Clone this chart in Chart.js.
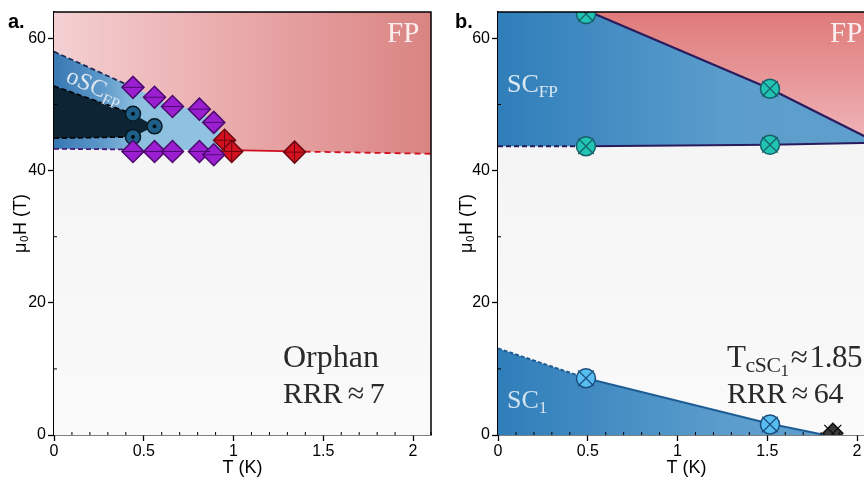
<!DOCTYPE html>
<html>
<head>
<meta charset="utf-8">
<script src="https://cdn.jsdelivr.net/npm/chart.js@4.4.1/dist/chart.umd.min.js"></script>
<style>
  body { margin: 0; width: 864px; height: 479px; overflow: hidden; background: #fff; position: relative; font-family: "Liberation Sans", Arial, sans-serif; }
  .panel { position: absolute; top: 0; width: 440px; height: 479px; }
  #pa { left: 0; }
  #pb { left: 440px; }
  .lab { position: absolute; font-family: "Liberation Serif", "DejaVu Serif", serif; white-space: nowrap; line-height: 1; }
  .lab sub { font-size: 0.66em; vertical-align: baseline; position: relative; top: 0.3em; }
  .lab sub.big { font-size: 0.7em; top: 0.22em; }
  .lab sub.big sub { font-size: 0.78em; top: 0.25em; }
  .tag { position: absolute; font-weight: bold; font-size: 20px; line-height: 1; }
</style>
</head>
<body>
<div class="panel" id="pa"><canvas id="chartA" width="440" height="479"></canvas></div>
<div class="panel" id="pb"><canvas id="chartB" width="440" height="479"></canvas></div>

<div class="tag" style="left:8px;top:11px">a.</div>
<div class="tag" style="left:455px;top:11px">b.</div>

<div class="lab" style="left:387px;top:18px;font-size:29px;color:#fbeeee">FP</div>
<div class="lab" style="left:73px;top:63px;font-size:24px;color:#d9e6f2;transform:rotate(24deg);transform-origin:0 0">oSC<sub>FP</sub></div>
<div class="lab" style="left:283px;top:340px;font-size:32px;color:#2a2a2a">Orphan</div>
<div class="lab" style="left:283px;top:378px;font-size:30px;color:#2a2a2a;letter-spacing:-0.3px">RRR&#8201;≈&#8201;7</div>

<div class="lab" style="left:830px;top:18px;font-size:29px;color:#fbeeee">FP</div>
<div class="lab" style="left:507px;top:71px;font-size:26px;color:#dde8f1">SC<sub>FP</sub></div>
<div class="lab" style="left:727px;top:341px;font-size:31px;color:#2a2a2a;letter-spacing:-0.4px">T<sub class="big">cSC<sub>1</sub></sub>&#8202;≈&#8202;1.85</div>
<div class="lab" style="left:727px;top:378px;font-size:30px;color:#2a2a2a;letter-spacing:-0.3px">RRR&#8201;≈&#8201;64</div>
<div class="lab" style="left:507px;top:387px;font-size:26px;color:#d2e2ee">SC<sub>1</sub></div>

<script>
// ---- panel a (orphan sample) ----
// upper edge of the oSC_FP pocket, also the FP boundary on the left
const aUpT = [0, 0.44, 0.56, 0.66, 0.81, 0.89, 0.99];
const aUpH = [58, 52.6, 51.1, 49.7, 49.3, 47.3, 43.1];
// FP boundary to the right of the pocket
const aFpT = [0.99, 1.34, 2.1];
const aFpH = [43.1, 42.9, 42.55];
// lower edge of the pocket
const aLowT = [0, 0.44, 0.99];
const aLowH = [43.3, 43.2, 43.1];
// dark inner region
const aDarkUpT = [0, 0.44, 0.56];
const aDarkUpH = [52.8, 48.6, 46.7];
const aDarkLowT = [0, 0.44, 0.56];
const aDarkLowH = [44.9, 45.1, 46.7];
// measured points
const aDiamT = [0.44, 0.56, 0.66, 0.81, 0.89, 0.44, 0.56, 0.66, 0.81, 0.89];
const aDiamH = [52.6, 51.1, 49.7, 49.3, 47.3, 42.9, 42.9, 42.9, 42.9, 42.4];
const aRedT = [0.95, 0.99, 1.34];
const aRedH = [44.6, 42.9, 42.8];
const aCircT = [0.44, 0.56, 0.44];
const aCircH = [48.6, 46.7, 45.1];

// ---- panel b (RRR 64 sample) ----
const bFpT = [0.47, 1.515, 2.1];
const bFpH = [64.5, 52.4, 44.4];
const bLowT = [0, 0.49, 1.515, 2.1];
const bLowH = [43.7, 43.7, 43.9, 44.2];
const bSc1T = [0, 0.49, 1.515, 1.82];
const bSc1H = [13.1, 8.6, 1.7, 0];
const bFpMarkT = [0.49, 1.515, 0.49, 1.515];
const bFpMarkH = [63.7, 52.4, 43.7, 43.9];
const bSc1MarkT = [0.49, 1.515];
const bSc1MarkH = [8.6, 1.6];
const bOnsetT = [1.865];
const bOnsetH = [0.25];

// axis ticks
const xTicks = [0, 0.5, 1, 1.5, 2];
const yTicks = [0, 20, 40, 60];
const xMinor = [0.1, 0.2, 0.3, 0.4, 0.6, 0.7, 0.8, 0.9, 1.1, 1.2, 1.3, 1.4, 1.6, 1.7, 1.8, 1.9, 2.1];
const yMinor = [10, 30, 50];

const SANS = '"Liberation Sans", Arial, sans-serif';

function pts(xs, ys) {
  return xs.map((x, i) => ({ x: x, y: ys[i] }));
}

function hGrad(stops) {
  return c => {
    const a = c.chart.chartArea;
    if (!a) return stops[0][1];
    const g = c.chart.ctx.createLinearGradient(a.left, 0, a.right, 0);
    stops.forEach(s => g.addColorStop(s[0], s[1]));
    return g;
  };
}

function vGrad(fromVal, toVal, c0, c1) {
  return c => {
    const y = c.chart.scales.y;
    if (!c.chart.chartArea || !y) return c0;
    const g = c.chart.ctx.createLinearGradient(0, y.getPixelForValue(fromVal), 0, y.getPixelForValue(toVal));
    g.addColorStop(0, c0);
    g.addColorStop(1, c1);
    return g;
  };
}

function region(data, fill, bg, order) {
  return { data: data, fill: fill, backgroundColor: bg, borderWidth: 0, pointRadius: 0, order: order };
}

function edge(data, color, width, dash, order) {
  return { data: data, fill: false, borderColor: color, borderWidth: width, borderDash: dash || [], pointRadius: 0, order: order };
}

function marks(data, style, r, fill, stroke, width, order) {
  return {
    data: data, showLine: false, pointStyle: style, pointRadius: r, pointHoverRadius: r,
    pointBackgroundColor: fill, pointBorderColor: stroke, pointBorderWidth: width, order: order
  };
}

const framePlugin = {
  id: 'frame',
  beforeDatasetsDraw(chart) {
    const { ctx, chartArea: a } = chart;
    ctx.save();
    const g = ctx.createLinearGradient(0, a.top, 0, a.bottom);
    g.addColorStop(0, '#f2f2f2');
    g.addColorStop(1, '#fafafa');
    ctx.fillStyle = g;
    ctx.fillRect(a.left, a.top, a.right - a.left, a.bottom - a.top);
    ctx.restore();
  },
  afterDraw(chart) {
    const { ctx, chartArea: a, scales } = chart;
    ctx.save();
    ctx.strokeStyle = '#000';
    ctx.lineWidth = 1.5;
    ctx.beginPath();
    ctx.moveTo(a.left, a.top);
    ctx.lineTo(a.right, a.top);
    ctx.lineTo(a.right, a.bottom);
    ctx.stroke();
    ctx.lineWidth = 1;
    ctx.beginPath();
    xMinor.forEach(v => {
      const px = scales.x.getPixelForValue(v);
      ctx.moveTo(px, a.bottom);
      ctx.lineTo(px, a.bottom - 3);
    });
    yMinor.forEach(v => {
      const py = scales.y.getPixelForValue(v);
      ctx.moveTo(a.left, py);
      ctx.lineTo(a.left + 3, py);
    });
    ctx.stroke();
    ctx.restore();
  }
};

function scalesFor(yAxisWidth, yTitlePad) {
  return {
    x: {
      type: 'linear', min: 0, max: 2.1,
      afterBuildTicks: s => { s.ticks = xTicks.map(v => ({ value: v })); },
      afterFit: s => { s.height = 44; s.paddingLeft = 0; s.paddingRight = 0; },
      ticks: { color: '#000', font: { family: SANS, size: 16 }, padding: 1, maxRotation: 0, autoSkip: false,
        callback: v => String(v) },
      grid: { drawOnChartArea: false, tickLength: 6, tickColor: '#000', tickWidth: 1.3 },
      border: { color: '#000', width: 1.5 },
      title: { display: true, text: 'T (K)', color: '#000', font: { family: SANS, size: 18 }, padding: { top: 0, bottom: 0 } }
    },
    y: {
      type: 'linear', min: 0, max: 64,
      afterBuildTicks: s => { s.ticks = yTicks.map(v => ({ value: v })); },
      afterFit: s => { s.width = yAxisWidth; s.paddingTop = 0; s.paddingBottom = 0; },
      ticks: { color: '#000', font: { family: SANS, size: 16 }, padding: 2 },
      grid: { drawOnChartArea: false, tickLength: 6, tickColor: '#000', tickWidth: 1.3 },
      border: { color: '#000', width: 1.5 },
      title: { display: true, text: 'μ₀H (T)', color: '#000', font: { family: SANS, size: 18 }, padding: { top: yTitlePad, bottom: 0 } }
    }
  };
}

function baseOptions(yAxisWidth, yTitlePad, rightPad) {
  return {
    responsive: false,
    animation: false,
    // markers would otherwise push the plot area inwards
    layout: { autoPadding: false, padding: { top: 12, right: rightPad, bottom: 0, left: 0 } },
    plugins: { legend: { display: false }, tooltip: { enabled: false } },
    scales: scalesFor(yAxisWidth, yTitlePad)
  };
}

// ---------- chart a ----------
const aSets = [];
// overlays and markers
aSets.push(marks(pts(aDiamT, aDiamH), 'line', 11, '#4b0a6e', '#4b0a6e', 1, 0));
aSets.push(marks(pts(aRedT, aRedH), 'cross', 11, '#6e0612', '#6e0612', 1, 0));
aSets.push(marks(pts(aCircT, aCircH), 'circle', 1.6, '#061018', '#061018', 1, 0));
aSets.push(marks(pts(aDiamT, aDiamH), 'rectRot', 11, '#9b1fd0', '#4b0a6e', 1.5, 1));
aSets.push(marks(pts(aRedT, aRedH), 'rectRot', 11, '#d4121f', '#6e0612', 1.5, 1));
aSets.push(marks(pts(aCircT, aCircH), 'circle', 7.5, '#1e5f8a', '#081820', 1.5, 1));
// boundary lines
aSets.push(edge(pts(aUpT.slice(0, 2), aUpH.slice(0, 2)), '#1c2a55', 1.8, [5, 3], 2));
aSets.push(edge(pts(aLowT.slice(0, 2), aLowH.slice(0, 2)), '#4a1a7a', 1.8, [5, 3], 2));
aSets.push(edge(pts(aDarkUpT.slice(0, 2), aDarkUpH.slice(0, 2)), '#000', 1.6, [5, 3], 2));
aSets.push(edge(pts(aDarkLowT.slice(0, 2), aDarkLowH.slice(0, 2)), '#000', 1.6, [5, 3], 2));
aSets.push(edge(pts(aFpT.slice(0, 2), aFpH.slice(0, 2)), '#d01020', 1.8, [], 2));
aSets.push(edge(pts(aFpT.slice(1), aFpH.slice(1)), '#d01020', 1.8, [6, 4], 2));
// regions
const aDarkLowIdx = aSets.length;
aSets.push(region(pts(aDarkLowT, aDarkLowH), false, 'transparent', 3));
aSets.push(region(pts(aDarkUpT, aDarkUpH), { target: aDarkLowIdx }, '#0c2433', 3));
const aLowIdx = aSets.length;
aSets.push(region(pts(aLowT, aLowH), false, 'transparent', 4));
aSets.push(region(pts(aUpT, aUpH), { target: aLowIdx },
  hGrad([[0, '#3878b3'], [0.12, '#5a96c8'], [0.22, '#8dbfdf'], [1, '#9ccbe6']]), 4));
aSets.push(region(pts(aUpT.concat(aFpT.slice(1)), aUpH.concat(aFpH.slice(1))), 'end',
  hGrad([[0, '#f4d0d2'], [0.5, '#e9a8a9'], [1, '#d98482']]), 5));

new Chart(document.getElementById('chartA'), {
  type: 'line',
  data: { datasets: aSets },
  options: baseOptions(54, 10, 9),
  plugins: [framePlugin]
});

// ---------- chart b ----------
const bSets = [];
bSets.push(marks(pts(bFpMarkT, bFpMarkH), 'crossRot', 11, '#17606a', '#17606a', 1.3, 0));
bSets.push(marks(pts(bSc1MarkT, bSc1MarkH), 'crossRot', 11, '#1b4d7e', '#1b4d7e', 1.3, 0));
bSets.push(marks(pts(bOnsetT, bOnsetH), 'crossRot', 12, '#111', '#111', 1.3, 0));
bSets.push(marks(pts(bFpMarkT, bFpMarkH), 'circle', 9.5, '#21c3b3', '#17606a', 1.5, 1));
bSets.push(marks(pts(bSc1MarkT, bSc1MarkH), 'circle', 9.5, '#58bdf0', '#1b4d7e', 1.5, 1));
bSets.push(marks(pts(bOnsetT, bOnsetH), 'rectRot', 10, '#3a3a3a', '#111', 1.5, 1));
// boundary lines
bSets.push(edge(pts(bFpT, bFpH), '#2a1b5c', 2.2, [], 2));
bSets.push(edge(pts(bLowT.slice(0, 2), bLowH.slice(0, 2)), '#2a1b5c', 2, [5, 3], 2));
bSets.push(edge(pts(bLowT.slice(1), bLowH.slice(1)), '#2a1b5c', 2, [], 2));
bSets.push(edge(pts(bSc1T.slice(0, 2), bSc1H.slice(0, 2)), '#1d5d94', 2, [4, 2], 2));
bSets.push(edge(pts(bSc1T.slice(1), bSc1H.slice(1)), '#1d5d94', 2, [], 2));
// regions
const blueStops = [[0, '#2f7eba'], [0.6, '#5b9dcc'], [1, '#5f9fcd']];
bSets.push(region(pts(bSc1T, bSc1H), 'origin', hGrad(blueStops), 3));
const bLowIdx = bSets.length;
bSets.push(region(pts(bLowT, bLowH), false, 'transparent', 4));
bSets.push(region(pts([0].concat(bFpT), [bFpH[0]].concat(bFpH)), { target: bLowIdx }, hGrad(blueStops), 4));
bSets.push(region(pts(bFpT, bFpH), 'end', vGrad(64, 44, '#df7a79', '#f0b5ba'), 5));

new Chart(document.getElementById('chartB'), {
  type: 'line',
  data: { datasets: bSets },
  options: baseOptions(58, 16, 5),
  plugins: [framePlugin]
});
</script>
</body>
</html>
